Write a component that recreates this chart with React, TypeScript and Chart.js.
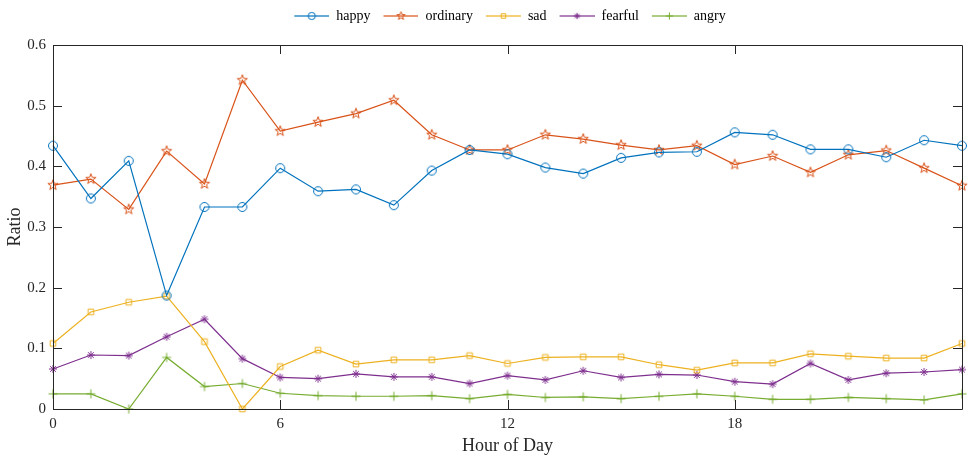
import React, { useEffect, useRef } from 'react';
import { Chart, registerables } from 'chart.js';

Chart.register(...registerables);

const hours = [0, 1, 2, 3, 4, 5, 6, 7, 8, 9, 10, 11, 12, 13, 14, 15, 16, 17, 18, 19, 20, 21, 22, 23, 24];
const xTickValues = [0, 6, 12, 18];
const yTickValues = [0, 0.1, 0.2, 0.3, 0.4, 0.5, 0.6];

const seriesNames = ['happy', 'ordinary', 'sad', 'fearful', 'angry'];

const happy = [0.434, 0.347, 0.409, 0.187, 0.333, 0.333, 0.397, 0.359, 0.362, 0.336, 0.393, 0.427, 0.420, 0.398, 0.388, 0.414, 0.423, 0.424, 0.456, 0.452, 0.428, 0.428, 0.415, 0.443, 0.434];
const ordinary = [0.369, 0.379, 0.329, 0.425, 0.371, 0.542, 0.458, 0.473, 0.487, 0.509, 0.452, 0.427, 0.427, 0.452, 0.445, 0.435, 0.427, 0.434, 0.403, 0.417, 0.390, 0.419, 0.426, 0.397, 0.368];
const sad = [0.108, 0.160, 0.176, 0.186, 0.111, 0.0, 0.070, 0.097, 0.074, 0.081, 0.081, 0.088, 0.075, 0.085, 0.086, 0.086, 0.073, 0.064, 0.076, 0.076, 0.091, 0.087, 0.084, 0.084, 0.108];
const fearful = [0.066, 0.089, 0.088, 0.119, 0.148, 0.083, 0.052, 0.050, 0.058, 0.053, 0.053, 0.042, 0.055, 0.048, 0.063, 0.052, 0.057, 0.056, 0.045, 0.041, 0.075, 0.048, 0.059, 0.061, 0.065];
const angry = [0.025, 0.025, 0.0, 0.085, 0.037, 0.042, 0.026, 0.022, 0.021, 0.021, 0.022, 0.017, 0.024, 0.019, 0.020, 0.017, 0.021, 0.025, 0.021, 0.016, 0.016, 0.019, 0.017, 0.015, 0.025];

const seriesValues = [happy, ordinary, sad, fearful, angry];
const seriesColors = ['#0072BD', '#D95319', '#EDB120', '#7E2F8E', '#77AC30'];
const seriesMarkers = ['circle', 'pentagram', 'square', 'asterisk', 'plus'];

const FONT = "'Liberation Serif', 'Times New Roman', serif";
const AXIS_COLOR = '#262626';

function drawMarker(ctx: CanvasRenderingContext2D, kind: string, color: string, cx: number, cy: number, s: number) {
  ctx.save();
  ctx.strokeStyle = color;
  ctx.lineWidth = 1;
  ctx.beginPath();
  if (kind === 'circle') {
    ctx.arc(cx, cy, 4.5 * s, 0, Math.PI * 2);
  } else if (kind === 'pentagram') {
    const ro = 5.4 * s;
    const ri = 2.2 * s;
    for (let i = 0; i < 10; i++) {
      const r = i % 2 === 0 ? ro : ri;
      const a = -Math.PI / 2 + (i * Math.PI) / 5;
      const px = cx + r * Math.cos(a);
      const py = cy + r * Math.sin(a);
      if (i === 0) ctx.moveTo(px, py);
      else ctx.lineTo(px, py);
    }
    ctx.closePath();
  } else if (kind === 'square') {
    const h = 2.8 * s;
    ctx.rect(cx - h, cy - h, 2 * h, 2 * h);
  } else if (kind === 'asterisk') {
    const r = 4 * s;
    for (let i = 0; i < 4; i++) {
      const a = (i * Math.PI) / 4;
      ctx.moveTo(cx - r * Math.cos(a), cy - r * Math.sin(a));
      ctx.lineTo(cx + r * Math.cos(a), cy + r * Math.sin(a));
    }
  } else if (kind === 'plus') {
    const r = 4.5 * s;
    ctx.moveTo(cx - r, cy);
    ctx.lineTo(cx + r, cy);
    ctx.moveTo(cx, cy - r);
    ctx.lineTo(cx, cy + r);
  }
  ctx.stroke();
  ctx.restore();
}

function makePointCanvas(kind: string, color: string): HTMLCanvasElement {
  const c = document.createElement('canvas');
  c.width = 14;
  c.height = 14;
  const ctx = c.getContext('2d')!;
  drawMarker(ctx, kind, color, 7, 7, 1);
  return c;
}

function makeLegendCanvas(kind: string, color: string): HTMLCanvasElement {
  const c = document.createElement('canvas');
  c.width = 40;
  c.height = 14;
  const ctx = c.getContext('2d')!;
  ctx.strokeStyle = color;
  ctx.globalAlpha = 0.8;
  ctx.lineWidth = 1.3;
  ctx.beginPath();
  ctx.moveTo(5, 7);
  ctx.lineTo(40, 7);
  ctx.stroke();
  ctx.globalAlpha = 1;
  drawMarker(ctx, kind, color, 22.5, 7, 0.8);
  return c;
}

const boxPlugin = {
  id: 'matlabBox',
  afterInit(chart: any) {
    const legend = chart.legend;
    if (legend && !legend._patchedFit) {
      const orig = legend.fit.bind(legend);
      legend.fit = function () {
        orig();
        this.height = 44;
      };
      legend._patchedFit = true;
    }
  },
  afterDraw(chart: any) {
    const { ctx, chartArea } = chart;
    const { left, right, top, bottom } = chartArea;
    const xs = chart.scales.x;
    const ys = chart.scales.y;
    const tl = 9;
    ctx.save();
    ctx.strokeStyle = AXIS_COLOR;
    ctx.lineWidth = 1;
    ctx.beginPath();
    ctx.rect(Math.round(left) + 0.5, Math.round(top) + 0.5, Math.round(right - left), Math.round(bottom - top));
    for (const v of xTickValues) {
      const px = Math.round(xs.getPixelForValue(v)) + 0.5;
      ctx.moveTo(px, bottom);
      ctx.lineTo(px, bottom - tl);
      ctx.moveTo(px, top);
      ctx.lineTo(px, top + tl);
    }
    for (const v of yTickValues) {
      const py = Math.round(ys.getPixelForValue(v)) + 0.5;
      ctx.moveTo(left, py);
      ctx.lineTo(left + tl, py);
      ctx.moveTo(right, py);
      ctx.lineTo(right - tl, py);
    }
    ctx.stroke();
    ctx.restore();
  },
};

export default function App() {
  const canvasRef = useRef<HTMLCanvasElement | null>(null);

  useEffect(() => {
    document.body.style.margin = '0';
    const canvas = canvasRef.current;
    if (!canvas) return;

    const pointImgs = seriesMarkers.map((m, i) => makePointCanvas(m, seriesColors[i]));
    const legendImgs = seriesMarkers.map((m, i) => makeLegendCanvas(m, seriesColors[i]));

    const datasets = seriesNames.map((name, i) => ({
      label: name,
      data: hours.map((h, j) => ({ x: h, y: seriesValues[i][j] })),
      borderColor: seriesColors[i],
      backgroundColor: seriesColors[i],
      borderWidth: 1.2,
      pointStyle: pointImgs[i] as any,
      pointRadius: 5,
      pointHoverRadius: 5,
      clip: false as any,
      tension: 0,
    }));

    const chart = new Chart(canvas, {
      type: 'line',
      data: { datasets },
      plugins: [boxPlugin],
      options: {
        animation: false,
        responsive: false,
        events: [],
        layout: { padding: { left: 0, right: 9, top: 1, bottom: 0 } },
        plugins: {
          tooltip: { enabled: false },
          legend: {
            display: true,
            position: 'top',
            fullSize: false,
            labels: {
              usePointStyle: true,
              pointStyleWidth: 40,
              padding: 8,
              color: '#000000',
              font: { family: FONT, size: 14 },
              generateLabels: (ch: any) =>
                ch.data.datasets.map((ds: any, i: number) => ({
                  text: ds.label,
                  datasetIndex: i,
                  pointStyle: legendImgs[i],
                  fillStyle: seriesColors[i],
                  strokeStyle: seriesColors[i],
                  fontColor: '#000000',
                  lineWidth: 0,
                  hidden: false,
                })),
            },
          },
        },
        scales: {
          x: {
            type: 'linear',
            min: 0,
            max: 24,
            grid: { display: false, drawTicks: false },
            border: { display: false },
            afterBuildTicks: (scale: any) => {
              scale.ticks = xTickValues.map((v) => ({ value: v }));
            },
            afterFit: (scale: any) => {
              scale.height = 51;
            },
            ticks: {
              color: AXIS_COLOR,
              font: { family: FONT, size: 15 },
              padding: 6,
              maxRotation: 0,
              autoSkip: false,
            },
            title: {
              display: true,
              text: 'Hour of Day',
              color: AXIS_COLOR,
              font: { family: FONT, size: 18 },
              padding: { top: 0, bottom: 3 },
            },
          },
          y: {
            type: 'linear',
            min: 0,
            max: 0.6,
            grid: { display: false, drawTicks: false },
            border: { display: false },
            afterBuildTicks: (scale: any) => {
              scale.ticks = yTickValues.map((v) => ({ value: v }));
            },
            afterFit: (scale: any) => {
              scale.width = 53;
            },
            ticks: {
              color: AXIS_COLOR,
              font: { family: FONT, size: 15 },
              padding: 7,
              callback: (v: any) => String(Math.round(Number(v) * 10) / 10),
            },
            title: {
              display: true,
              text: 'Ratio',
              color: AXIS_COLOR,
              font: { family: FONT, size: 18 },
              padding: { top: 4, bottom: 0 },
            },
          },
        },
      },
    });

    return () => {
      chart.destroy();
    };
  }, []);

  return (
    <div style={{ width: 971, height: 460 }}>
      <canvas ref={canvasRef} width={971} height={460} style={{ display: 'block' }} />
    </div>
  );
}
